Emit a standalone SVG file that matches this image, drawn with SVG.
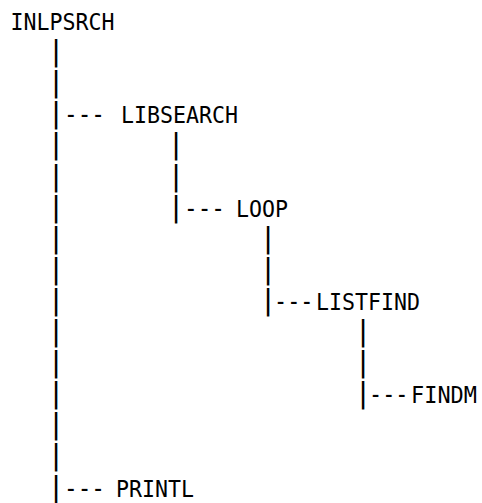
<svg xmlns="http://www.w3.org/2000/svg" width="482" height="503" viewBox="0 0 482 503">
<style>
.lbl{font-family:"DejaVu Sans Mono","Liberation Mono",monospace;font-size:23px;fill:#000}
.conn{font-family:"DejaVu Sans Mono","Liberation Mono",monospace;fill:#000}
.bar{font-size:28.5px;text-anchor:middle}
.dash{font-size:26px}
</style>
<rect width="482" height="503" fill="#fff"/>
<g id="connectors">
<text id="trunk-inlpsrch" class="conn"><tspan class="bar" x="56" y="61.1">|</tspan><tspan class="bar" x="56" y="92.2">|</tspan><tspan class="bar" x="56" y="123.3">|</tspan><tspan class="dash" x="64" y="123.3" textLength="41" lengthAdjust="spacingAndGlyphs">---</tspan><tspan class="bar" x="56" y="154.4">|</tspan><tspan class="bar" x="56" y="185.5">|</tspan><tspan class="bar" x="56" y="216.6">|</tspan><tspan class="bar" x="56" y="247.7">|</tspan><tspan class="bar" x="56" y="278.8">|</tspan><tspan class="bar" x="56" y="309.9">|</tspan><tspan class="bar" x="56" y="341">|</tspan><tspan class="bar" x="56" y="372.1">|</tspan><tspan class="bar" x="56" y="403.2">|</tspan><tspan class="bar" x="56" y="434.3">|</tspan><tspan class="bar" x="56" y="465.4">|</tspan><tspan class="bar" x="56" y="496.5">|</tspan><tspan class="dash" x="64" y="496.5" textLength="41" lengthAdjust="spacingAndGlyphs">---</tspan></text>
<text id="trunk-libsearch" class="conn"><tspan class="bar" x="176" y="154.4">|</tspan><tspan class="bar" x="176" y="185.5">|</tspan><tspan class="bar" x="176" y="216.6">|</tspan><tspan class="dash" x="184" y="216.6" textLength="41" lengthAdjust="spacingAndGlyphs">---</tspan></text>
<text id="trunk-loop" class="conn"><tspan class="bar" x="268" y="247.7">|</tspan><tspan class="bar" x="268" y="278.8">|</tspan><tspan class="bar" x="268" y="309.9">|</tspan><tspan class="dash" x="274" y="309.9" textLength="39.5" lengthAdjust="spacingAndGlyphs">---</tspan></text>
<text id="trunk-listfind" class="conn"><tspan class="bar" x="363" y="341">|</tspan><tspan class="bar" x="363" y="372.1">|</tspan><tspan class="bar" x="363" y="403.2">|</tspan><tspan class="dash" x="369" y="403.2" textLength="39.5" lengthAdjust="spacingAndGlyphs">---</tspan></text>
</g>
<g id="INLPSRCH"><text class="lbl" x="10.5" y="30" textLength="104" lengthAdjust="spacingAndGlyphs">INLPSRCH</text></g>
<g id="LIBSEARCH"><text class="lbl" x="121" y="123.3" textLength="117" lengthAdjust="spacingAndGlyphs">LIBSEARCH</text></g>
<g id="LOOP"><text class="lbl" x="236" y="216.6" textLength="52" lengthAdjust="spacingAndGlyphs">LOOP</text></g>
<g id="LISTFIND"><text class="lbl" x="316" y="309.9" textLength="104" lengthAdjust="spacingAndGlyphs">LISTFIND</text></g>
<g id="FINDM"><text class="lbl" x="411" y="403.2" textLength="66" lengthAdjust="spacingAndGlyphs">FINDM</text></g>
<g id="PRINTL"><text class="lbl" x="116" y="496.5" textLength="78" lengthAdjust="spacingAndGlyphs">PRINTL</text></g>
</svg>
